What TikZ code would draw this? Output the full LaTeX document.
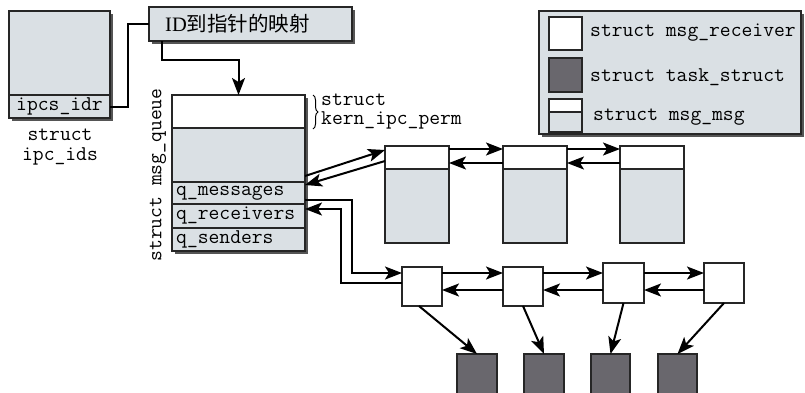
\documentclass[tikz,border=0pt]{standalone}
\usepackage{fontspec}
\setmainfont{Liberation Serif}
\newfontfamily\cjk{Noto Sans CJK SC}
\usetikzlibrary{arrows.meta,decorations.pathreplacing}
\definecolor{lg}{HTML}{DAE0E4}
\definecolor{dk}{HTML}{69676D}
\definecolor{sh}{HTML}{555555}
\begin{document}
\begin{tikzpicture}[x=1pt,y=-1pt,
  bx/.style={draw=black!85, line width=1.2pt, inner sep=0pt, outer sep=0pt, anchor=north west},
  wbox/.style={bx, fill=white},
  gbox/.style={bx, fill=lg},
  dbox/.style={bx, fill=dk},
  shd/.style={fill=sh, draw=none},
  ar/.style={line width=2pt, -{Stealth[length=17pt,width=13pt,inset=4pt]}},
  ln/.style={line width=2pt},
  mono/.style={font=\fontsize{21}{19}\selectfont\ttfamily, inner sep=0pt}]
\useasboundingbox (0,0) rectangle (805,392);
\clip (0,0) rectangle (805,392);

% ---------- struct ipc_ids ----------
\fill[shd] (12,14) rectangle (113,121);
\node[gbox, minimum width=101pt, minimum height=84pt] (ids) at (9,11) {};
\node[gbox, minimum width=101pt, minimum height=23pt] (idr) at (9,95) {};
\node[mono] (idrt) at (idr.center) {ipcs\_idr};
\node[mono, align=center, font=\fontsize{21}{20}\selectfont\ttfamily] (idsl) at (60,147) {struct\\ipc\_ids};

% ---------- mapping box ----------
\fill[shd] (152,10) rectangle (355,44);
\node[gbox, minimum width=203pt, minimum height=34pt] (title) at (149,7) {};
\node[anchor=west, inner sep=0pt, font=\fontsize{20.5}{22}\selectfont] (titlet) at (165,24) {ID{\cjk 到指针的映射}};

% ---------- struct msg_queue ----------
\fill[shd] (175,98) rectangle (308,254);
\node[wbox, minimum width=133pt, minimum height=33pt] (qtop) at (172,95) {};
\node[gbox, minimum width=133pt, minimum height=54pt] (qmid) at (172,128) {};
\node[gbox, minimum width=133pt, minimum height=22pt] (qmsg) at (172,182) {};
\node[gbox, minimum width=133pt, minimum height=24pt] (qrcv) at (172,204) {};
\node[gbox, minimum width=133pt, minimum height=23pt] (qsnd) at (172,228) {};
\node[mono, anchor=west] (qmsgt) at ([xshift=4pt]qmsg.west) {q\_messages};
\node[mono, anchor=west] (qrcvt) at ([xshift=4pt]qrcv.west) {q\_receivers};
\node[mono, anchor=west] (qsndt) at ([xshift=4pt]qsnd.west) {q\_senders};
\node[mono, rotate=90] (qlabel) at (158,175) {struct msg\_queue};
\draw[line width=1pt, decorate, decoration={brace, amplitude=5pt}] (313,95) -- (313,129);
\node[mono, anchor=west, align=left] (kp) at (321,112) {struct\\kern\_ipc\_perm};

% ---------- legend ----------
\fill[shd] (542,14) rectangle (804,137);
\node[gbox, minimum width=262pt, minimum height=123pt] (legend) at (539,11) {};
\node[wbox, minimum width=33pt, minimum height=33pt] (lgw) at (549,17) {};
\node[dbox, minimum width=33pt, minimum height=34pt] (lgd) at (549,58) {};
\node[wbox, minimum width=33pt, minimum height=13pt] (lgm1) at (549,99) {};
\node[gbox, minimum width=33pt, minimum height=20pt] (lgm2) at (549,112) {};
\node[mono, anchor=west] (lgwt) at (590,33) {struct msg\_receiver};
\node[mono, anchor=west] (lgdt) at (590,77) {struct task\_struct};
\node[mono, anchor=west] (lgmt) at (593,117) {struct msg\_msg};

% ---------- msg_msg boxes ----------
\foreach \n/\x in {1/385,2/503,3/620}{
  \node[wbox, minimum width=64pt, minimum height=23pt] (m\n t) at (\x,146) {};
  \node[gbox, minimum width=64pt, minimum height=74pt] (m\n b) at (\x,169) {};
}
\coordinate (y149) at (0,149);
\coordinate (y163) at (0,163);
\draw[ar] (m1t.east |- y149) -- (m2t.west |- y149);
\draw[ar] (m2t.west |- y163) -- (m1t.east |- y163);
\draw[ar] (m2t.east |- y149) -- (m3t.west |- y149);
\draw[ar] (m3t.west |- y163) -- (m2t.east |- y163);

% ---------- receivers ----------
\node[wbox, minimum width=40pt, minimum height=39pt] (r1) at (402,267) {};
\node[wbox, minimum width=40pt, minimum height=39pt] (r2) at (503,267) {};
\node[wbox, minimum width=41pt, minimum height=40pt] (r3) at (603,263) {};
\node[wbox, minimum width=40pt, minimum height=40pt] (r4) at (704,263) {};
\coordinate (ya) at (0,273);
\coordinate (yb) at (0,290);
\draw[ar] (r1.east |- ya) -- (r2.west |- ya);
\draw[ar] (r2.east |- ya) -- (r3.west |- ya);
\draw[ar] (r3.east |- ya) -- (r4.west |- ya);
\draw[ar] (r2.west |- yb) -- (r1.east |- yb);
\draw[ar] (r3.west |- yb) -- (r2.east |- yb);
\draw[ar] (r4.west |- yb) -- (r3.east |- yb);

% ---------- tasks ----------
\node[dbox, minimum width=40pt, minimum height=50pt] (t1) at (457,354) {};
\node[dbox, minimum width=40pt, minimum height=50pt] (t2) at (524,354) {};
\node[dbox, minimum width=39pt, minimum height=50pt] (t3) at (591,354) {};
\node[dbox, minimum width=39pt, minimum height=50pt] (t4) at (658,354) {};
\draw[ar] ([xshift=-3pt]r1.south) -- (t1.north);
\draw[ar] (r2.south) -- (t2.north);
\draw[ar] (r3.south) -- (t3.north);
\draw[ar] (r4.south) -- (t4.north);

% ---------- connectors ----------
\draw[ln] (idr.east) -- ++(18,0) |- (title.west);
\draw[ar] ([xshift=13pt]title.south west) -- ++(0,19) -| (qtop.north);
\draw[ar] ([yshift=6pt]qmid.south east) -- ([yshift=7.5pt]m1t.west);
\draw[ar] ([yshift=-3.5pt]m1t.west) -- ([yshift=-3pt]qmsg.north east);
\coordinate (c200) at (0,200);
\coordinate (j1) at (352,273);
\coordinate (c283) at (0,283);
\coordinate (j2) at (341,209);
\draw[ar] (qmsg.east |- c200) -| (j1) -- (r1.west |- j1);
\draw[ar] (r1.west |- c283) -| (j2) -- (qrcv.east |- j2);
\end{tikzpicture}
\end{document}
